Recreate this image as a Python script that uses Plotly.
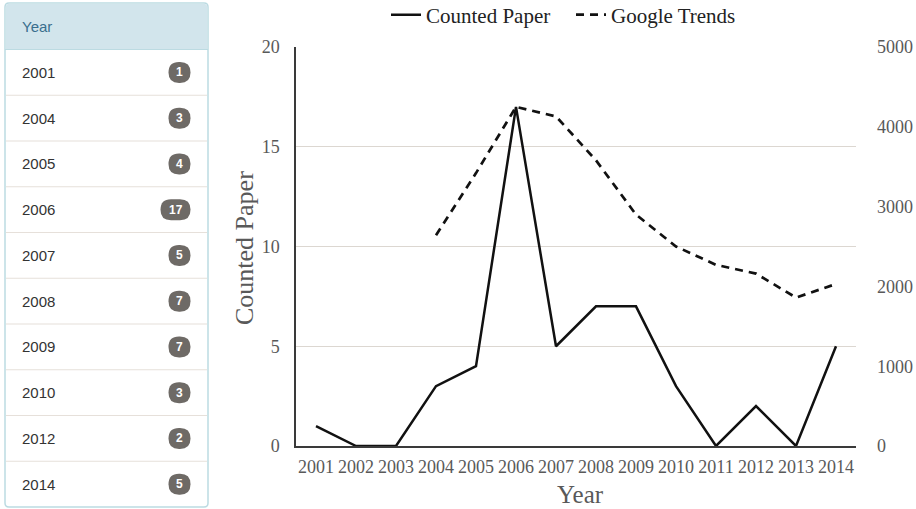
import plotly.graph_objects as go

# ---- data ----
years = [str(y) for y in range(2001, 2015)]
counted_paper = [1, 0, 0, 3, 4, 17, 5, 7, 7, 3, 0, 2, 0, 5]
trend_years = [str(y) for y in range(2004, 2015)]
google_trends = [2640, 3420, 4250, 4130, 3580, 2900, 2500, 2270, 2160, 1860, 2030]

table_years = ["2001", "2004", "2005", "2006", "2007", "2008", "2009", "2010", "2012", "2014"]
table_counts = [1, 3, 4, 17, 5, 7, 7, 3, 2, 5]

W, H = 916, 509
def px(x):
    return x / W
def py(y):
    return 1 - y / H

SERIF = "Liberation Serif, Times New Roman, serif"
SANS = "Liberation Sans, Helvetica, Arial, sans-serif"
TICK = "#595959"

fig = go.Figure()
fig.add_trace(go.Scatter(
    x=years, y=counted_paper, name="Counted Paper", mode="lines",
    line=dict(color="#111111", width=2.5), yaxis="y", legend="legend"))
fig.add_trace(go.Scatter(
    x=trend_years, y=google_trends, name="Google Trends", mode="lines",
    line=dict(color="#111111", width=2.7, dash="8px,6px"), yaxis="y2", legend="legend2"))

shapes = []
annotations = []

# ---- left panel (list group) ----
L, R, T, B = 5, 208, 3, 507
r = 4
def rpath(x0, y0, x1, y1, rad, top=True, bottom=True):
    rt = rad if top else 0
    rb = rad if bottom else 0
    pts = [
        f"M {px(x0 + rt)},{py(y0)}",
        f"L {px(x1 - rt)},{py(y0)}",
        f"Q {px(x1)},{py(y0)} {px(x1)},{py(y0 + rt)}",
        f"L {px(x1)},{py(y1 - rb)}",
        f"Q {px(x1)},{py(y1)} {px(x1 - rb)},{py(y1)}",
        f"L {px(x0 + rb)},{py(y1)}",
        f"Q {px(x0)},{py(y1)} {px(x0)},{py(y1 - rb)}",
        f"L {px(x0)},{py(y0 + rt)}",
        f"Q {px(x0)},{py(y0)} {px(x0 + rt)},{py(y0)}",
        "Z",
    ]
    return " ".join(pts)

header_bottom = 49.5
row_h = (B - header_bottom) / len(table_years)

shapes.append(dict(type="path", xref="paper", yref="paper",
                   path=rpath(L, T, R, B, r), fillcolor="white",
                   line=dict(color="#bcdbe2", width=1.5), layer="below"))
shapes.append(dict(type="path", xref="paper", yref="paper",
                   path=rpath(L + 0.75, T + 0.75, R - 0.75, header_bottom, r - 0.5, bottom=False),
                   fillcolor="#d2e5ec", line=dict(width=0), layer="below"))
shapes.append(dict(type="line", xref="paper", yref="paper",
                   x0=px(L), x1=px(R), y0=py(header_bottom), y1=py(header_bottom),
                   line=dict(color="#bcdbe2", width=1.2)))
annotations.append(dict(text="Year", xref="paper", yref="paper", x=px(20), y=py(26),
                        xanchor="left", yanchor="middle", showarrow=False,
                        font=dict(family=SANS, size=15, color="#3a6f8e")))

for i, (yr, cnt) in enumerate(zip(table_years, table_counts)):
    cy = header_bottom + row_h * (i + 0.5)
    if i > 0:
        ys = header_bottom + row_h * i
        shapes.append(dict(type="line", xref="paper", yref="paper",
                           x0=px(L + 1), x1=px(R - 1), y0=py(ys), y1=py(ys),
                           line=dict(color="#e6e0da", width=1.2)))
    annotations.append(dict(text=yr, xref="paper", yref="paper", x=px(20), y=py(cy),
                            xanchor="left", yanchor="middle", showarrow=False,
                            font=dict(family=SANS, size=15, color="#333333")))
    label = str(cnt)
    bh = 21
    bw = 22 if len(label) == 1 else 30
    bx1 = 190.5
    bx0 = bx1 - bw
    shapes.append(dict(type="path", xref="paper", yref="paper",
                       path=rpath(bx0, cy - bh / 2, bx1, cy + bh / 2, bh / 2 * 0.999),
                       fillcolor="#6e6a66", line=dict(width=0)))
    annotations.append(dict(text=f"<b>{label}</b>", xref="paper", yref="paper",
                            x=px((bx0 + bx1) / 2), y=py(cy), xanchor="center", yanchor="middle",
                            showarrow=False, font=dict(family=SANS, size=12, color="white")))

# axis titles
annotations.append(dict(text="Counted Paper", xref="paper", yref="paper", x=px(244), y=py(248),
                        xanchor="center", yanchor="middle", textangle=-90, showarrow=False,
                        font=dict(family=SERIF, size=26, color=TICK)))
annotations.append(dict(text="Year", xref="paper", yref="paper", x=px(580), y=py(494),
                        xanchor="center", yanchor="middle", showarrow=False,
                        font=dict(family=SERIF, size=25, color=TICK)))

legend_common = dict(orientation="h", yanchor="middle",
                     font=dict(family=SERIF, size=21, color="#222222"),
                     bgcolor="rgba(0,0,0,0)", itemwidth=30)

fig.update_layout(
    width=W, height=H, autosize=False,
    margin=dict(l=0, r=0, t=0, b=0, autoexpand=False),
    paper_bgcolor="white", plot_bgcolor="white",
    showlegend=True,
    legend=dict(x=px(386), y=py(15), xanchor="left", **legend_common),
    legend2=dict(x=px(571), y=py(15), xanchor="left", **legend_common),
    xaxis=dict(domain=[px(296), px(856)], type="category", range=[-0.5, 13.5],
               showgrid=False, showline=True, linecolor="#3a3a3a", linewidth=1.5,
               ticks="", tickfont=dict(family=SERIF, size=18, color=TICK),
               ticklabelstandoff=4, anchor="y", fixedrange=True),
    yaxis=dict(domain=[1 - 446 / H, 1 - 47 / H], range=[0, 20], dtick=5,
               showgrid=True, gridcolor="#dcd7d1", gridwidth=1,
               showline=True, linecolor="#3a3a3a", linewidth=1.5, zeroline=False,
               ticks="", tickfont=dict(family=SERIF, size=18, color=TICK),
               ticklabelstandoff=11, fixedrange=True),
    yaxis2=dict(overlaying="y", side="right", range=[0, 5000], dtick=1000,
                showgrid=False, showline=False, zeroline=False, ticks="",
                tickfont=dict(family=SERIF, size=18, color=TICK),
                ticklabelstandoff=20, fixedrange=True, anchor="x"),
    shapes=shapes,
    annotations=annotations,
)

fig.write_html("out.html", config={"displayModeBar": False},
               post_script="document.body.style.margin='0';document.body.style.overflow='hidden';")
